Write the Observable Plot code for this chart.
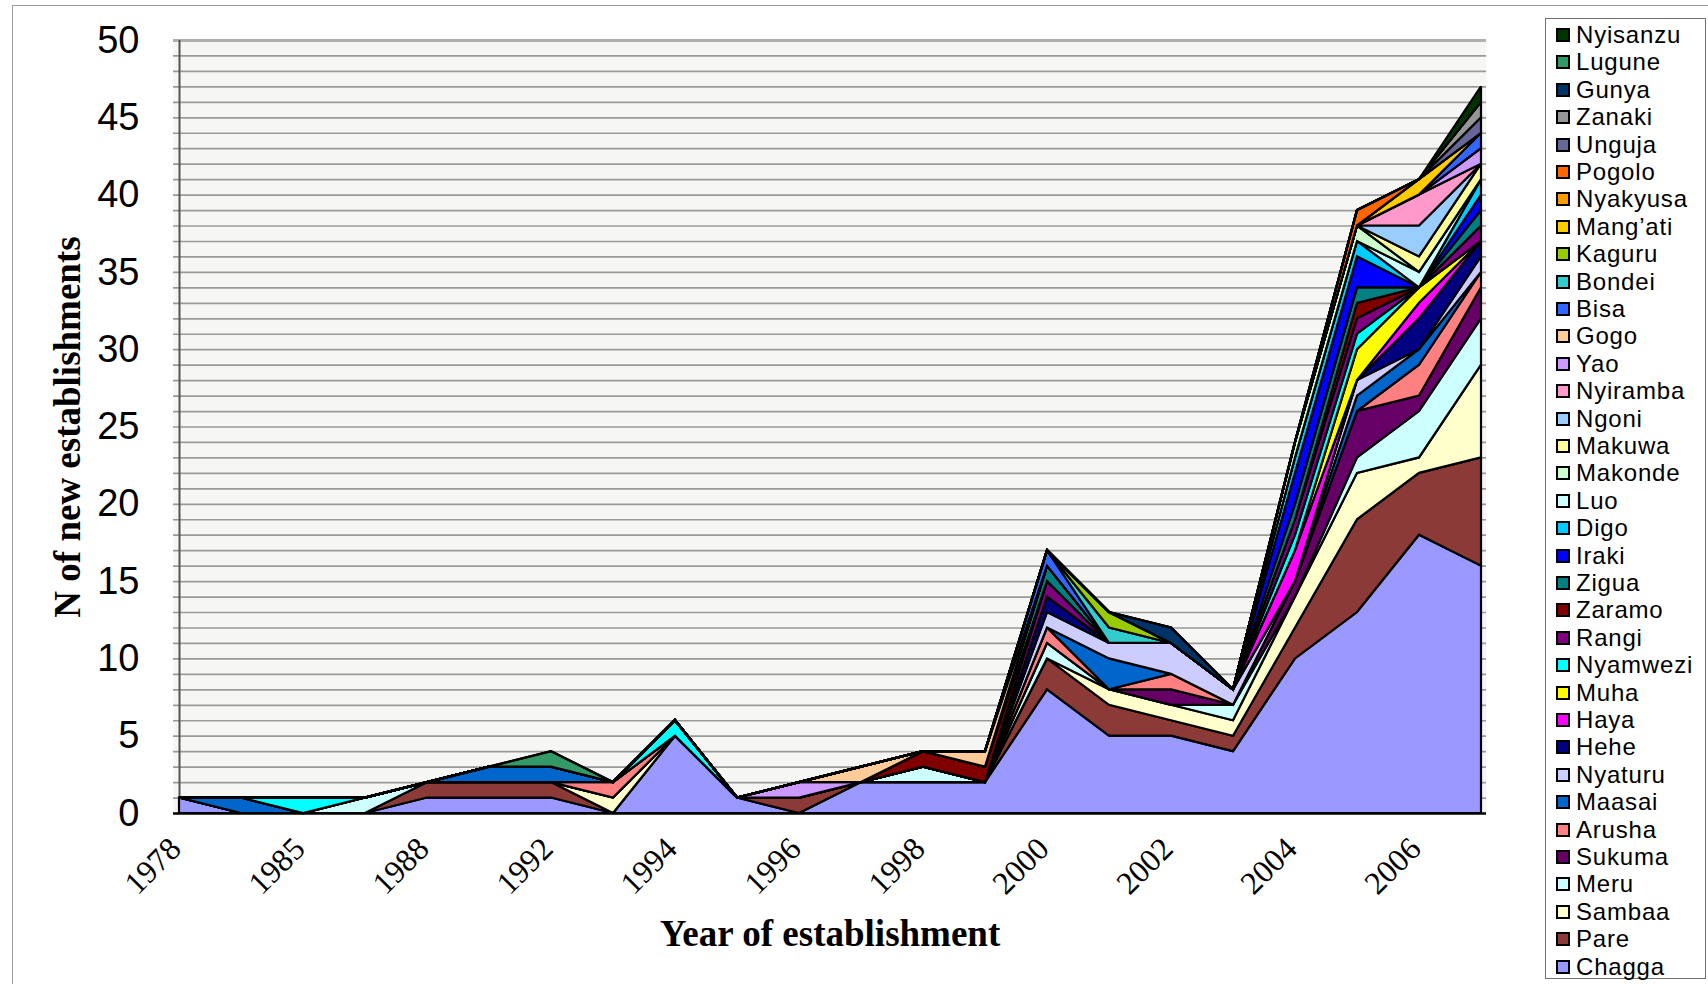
<!DOCTYPE html>
<html>
<head>
<meta charset="utf-8">
<script src="https://cdn.jsdelivr.net/npm/d3@7"></script>
<script src="https://cdn.jsdelivr.net/npm/@observablehq/plot@0.6"></script>
<style>
  html, body { margin: 0; padding: 0; background: #ffffff; width: 1708px; height: 984px; overflow: hidden; }
  #wrap { position: relative; width: 1708px; height: 984px; }
  #outer { position: absolute; left: 12px; top: 5px; width: 1720px; height: 1000px; border: 1px solid #9c9c9c; }
  #chart { position: absolute; left: 0; top: 0; }
  #legend { position: absolute; left: 1545px; top: 18px; width: 161px; height: 961px; border: 1px solid #707070; background: #fff; box-sizing: border-box; }
  .item { position: absolute; left: 0; height: 26px; width: 159px; }
  .sw { position: absolute; left: 10px; top: 6px; width: 14px; height: 14px; border: 2px solid #000; box-sizing: border-box; }
  .lb { position: absolute; left: 30px; top: 0; line-height: 26px; font-family: "Liberation Sans", Arial, sans-serif; font-size: 24px; letter-spacing: 0.8px; color: #000; white-space: nowrap; }
</style>
</head>
<body>
<div id="wrap">
  <div id="outer"></div>
  <div id="chart"></div>
  <div id="legend"></div>
</div>
<script>
// Categories (x) and the ticks that are labelled
const years = ["1978","1983","1985","1987","1988","1990","1992","1993","1994","1995","1996","1997","1998","1999","2000","2001","2002","2003","2004","2005","2006","2007"];
const tickYears = years.filter((d, i) => i % 2 === 0);

// Series, in stacking order (bottom first)
const groups = ["Chagga","Pare","Sambaa","Meru","Sukuma","Arusha","Maasai","Nyaturu","Hehe","Haya","Muha","Nyamwezi","Rangi","Zaramo","Zigua","Iraki","Digo","Luo","Makonde","Makuwa","Ngoni","Nyiramba","Yao","Gogo","Bisa","Bondei","Kaguru","Mang\u2019ati","Nyakyusa","Pogolo","Unguja","Zanaki","Gunya","Lugune","Nyisanzu"];
const colors = ["#9999ff","#8c3a38","#ffffcc","#ccffff","#660066","#ff8080","#0066cc","#ccccff","#000080","#ff00ff","#ffff00","#00ffff","#800080","#800000","#008080","#0000ff","#00ccff","#ccffff","#ccffcc","#ffff99","#99ccff","#ff99cc","#cc99ff","#ffcc99","#3366ff","#33cccc","#99cc00","#ffcc00","#ff9900","#ff6600","#666699","#969696","#003366","#339966","#003300"];

// Values per series, one per year
const Chagga   = [1,0,0,0,1,1,1,0,5,1,0,2,2,2,8,5,5,4,10,13,18,16];
const Pare     = [0,0,0,0,1,1,1,0,0,0,1,0,0,0,2,2,1,1,2,6,4,7];
const Sambaa   = [0,0,0,0,0,0,0,1,0,0,0,0,0,0,0,1,1,1,2,3,1,6];
const Meru     = [0,0,0,1,0,0,0,0,0,0,0,0,1,0,1,0,0,1,0,1,3,3];
const Sukuma   = [0,0,0,0,0,0,0,0,0,0,0,0,0,0,0,0,1,0,1,3,1,2];
const Arusha   = [0,0,0,0,0,0,0,1,0,0,0,0,0,0,1,0,1,0,0,0,2,1];
const Maasai   = [0,1,0,0,0,1,1,0,0,0,0,0,0,0,0,2,0,0,0,1,1,0];
const Nyaturu  = [0,0,0,0,0,0,0,0,0,0,0,0,0,0,1,1,2,1,0,1,0,1];
const Hehe     = [0,0,0,0,0,0,0,0,0,0,0,0,0,0,1,0,0,0,0,0,2,1];
const Haya     = [0,0,0,0,0,0,0,0,0,0,0,0,0,0,0,0,0,0,2,0,1,0];
const Muha     = [0,0,0,0,0,0,0,0,0,0,0,0,0,0,0,0,0,0,0,2,1,0];
const Nyamwezi = [0,0,1,0,0,0,0,0,1,0,0,0,0,0,0,0,0,0,1,1,0,0];
const Rangi    = [0,0,0,0,0,0,0,0,0,0,0,0,0,0,1,0,0,0,1,1,0,1];
const Zaramo   = [0,0,0,0,0,0,0,0,0,0,0,0,1,1,0,0,0,0,0,1,0,0];
const Zigua    = [0,0,0,0,0,0,0,0,0,0,0,0,0,0,1,0,0,0,1,1,0,1];
const Iraki    = [0,0,0,0,0,0,0,0,0,0,0,0,0,0,0,0,0,0,2,2,0,1];
const Digo     = [0,0,0,0,0,0,0,0,0,0,0,0,0,0,0,0,0,0,1,1,0,1];
const Luo      = [0,0,0,0,0,0,0,0,0,0,0,0,0,0,0,0,0,0,0,0,1,0];
const Makonde  = [0,0,0,0,0,0,0,0,0,0,0,0,0,0,0,0,0,0,1,1,0,0];
const Makuwa   = [0,0,0,0,0,0,0,0,0,0,0,0,0,0,0,0,0,0,0,0,1,1];
const Ngoni    = [0,0,0,0,0,0,0,0,0,0,0,0,0,0,0,0,0,0,0,0,2,0];
const Nyiramba = [0,0,0,0,0,0,0,0,0,0,0,0,0,0,0,0,0,0,0,0,2,0];
const Yao      = [0,0,0,0,0,0,0,0,0,0,1,0,0,0,0,0,0,0,0,0,0,1];
const Gogo     = [0,0,0,0,0,0,0,0,0,0,0,1,0,1,0,0,0,0,0,0,0,0];
const Bisa     = [0,0,0,0,0,0,0,0,0,0,0,0,0,0,1,0,0,0,0,0,0,1];
const Bondei   = [0,0,0,0,0,0,0,0,0,0,0,0,0,0,0,1,0,0,0,0,0,0];
const Kaguru   = [0,0,0,0,0,0,0,0,0,0,0,0,0,0,0,1,0,0,0,0,0,0];
const Mangati  = [0,0,0,0,0,0,0,0,0,0,0,0,0,0,0,0,0,0,0,0,1,0];
const Nyakyusa = [0,0,0,0,0,0,0,0,0,0,0,0,0,0,0,0,0,0,0,0,0,0];
const Pogolo   = [0,0,0,0,0,0,0,0,0,0,0,0,0,0,0,0,0,0,0,1,0,0];
const Unguja   = [0,0,0,0,0,0,0,0,0,0,0,0,0,0,0,0,0,0,0,0,0,1];
const Zanaki   = [0,0,0,0,0,0,0,0,0,0,0,0,0,0,0,0,0,0,0,0,0,1];
const Gunya    = [0,0,0,0,0,0,0,0,0,0,0,0,0,0,0,0,1,0,0,0,0,0];
const Lugune   = [0,0,0,0,0,0,1,0,0,0,0,0,0,0,0,0,0,0,0,0,0,0];
const Nyisanzu = [0,0,0,0,0,0,0,0,0,0,0,0,0,0,0,0,0,0,0,0,0,1];

const seriesValues = [Chagga,Pare,Sambaa,Meru,Sukuma,Arusha,Maasai,Nyaturu,Hehe,Haya,Muha,Nyamwezi,Rangi,Zaramo,Zigua,Iraki,Digo,Luo,Makonde,Makuwa,Ngoni,Nyiramba,Yao,Gogo,Bisa,Bondei,Kaguru,Mangati,Nyakyusa,Pogolo,Unguja,Zanaki,Gunya,Lugune,Nyisanzu];
const yTicks = d3.range(0, 51, 5);
const yGrid = d3.range(1, 50, 1);

const table = groups.flatMap((g, gi) => years.map((y, i) => ({year: y, group: g, n: seriesValues[gi][i]})));

const chart = Plot.plot({
  width: 1540,
  height: 984,
  marginLeft: 173,
  marginRight: 54,
  marginTop: 40,
  marginBottom: 171,
  x: {type: "point", domain: years, padding: 0},
  y: {domain: [0, 50]},
  color: {domain: groups, range: colors},
  style: {background: "transparent", overflow: "visible"},
  marks: [
    Plot.frame({fill: "#f6f6f4", stroke: null}),
    Plot.gridY(yGrid, {stroke: "#9a9a9a", strokeOpacity: 1, strokeWidth: 1.7}),
    Plot.ruleY([50], {stroke: "#b0b0b0", strokeWidth: 3}),
    Plot.ruleX([years[0]], {stroke: "#555", strokeWidth: 2}),
    Plot.areaY(table, {x: "year", y: "n", z: "group", fill: "group", stroke: "#000", strokeWidth: 2.2, strokeLinejoin: "miter", strokeMiterlimit: 3}),
    Plot.ruleY([0], {stroke: "#000", strokeWidth: 2.5}),
    Plot.axisY(yTicks, {tickSize: 0, tickPadding: 34, label: null, fontSize: 38, fontFamily: "Liberation Sans, Arial, sans-serif", fill: "#000"}),
    Plot.axisX(tickYears, {tickSize: 0, tickPadding: 30, tickRotate: -45, label: null, fontSize: 32, fontFamily: "Liberation Serif, Times New Roman, serif", fill: "#000", dx: -4}),
    Plot.text(["N of new establishments"], {frameAnchor: "left", textAnchor: "middle", dx: -105, rotate: -90, fontSize: 37, fontWeight: "bold", fontFamily: "Liberation Serif, Times New Roman, serif", fill: "#000"}),
    Plot.text(["Year of establishment"], {frameAnchor: "bottom", dy: 132, fontSize: 37, fontWeight: "bold", fontFamily: "Liberation Serif, Times New Roman, serif", fill: "#000"})
  ]
});
document.getElementById("chart").appendChild(chart);

// Legend (top entry = last series)
const legend = document.getElementById("legend");
const order = groups.slice().reverse();
order.forEach((g, i) => {
  const item = document.createElement("div");
  item.className = "item";
  item.style.top = (3 + i * 27.4) + "px";
  const sw = document.createElement("div");
  sw.className = "sw";
  sw.style.background = colors[groups.indexOf(g)];
  const lb = document.createElement("div");
  lb.className = "lb";
  lb.textContent = g;
  item.appendChild(sw);
  item.appendChild(lb);
  legend.appendChild(item);
});
</script>
</body>
</html>
